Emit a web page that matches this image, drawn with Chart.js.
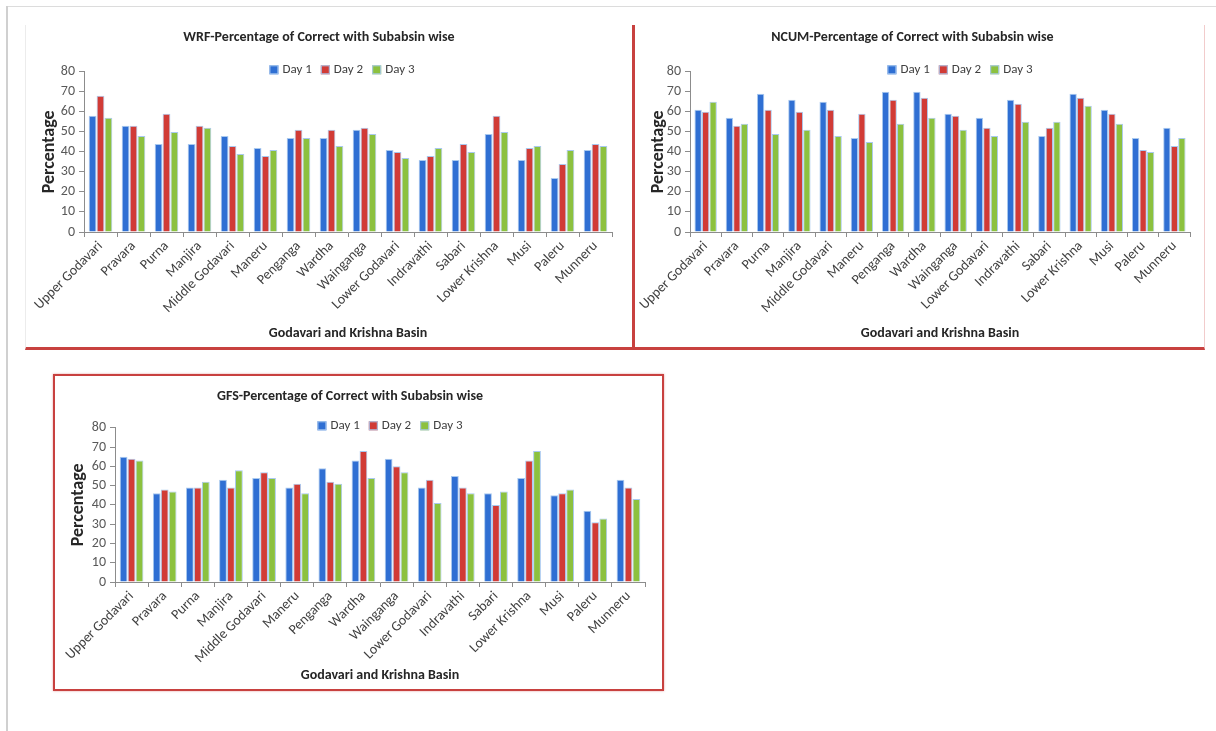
<!DOCTYPE html>
<html>
<head>
<meta charset="utf-8">
<script src="https://cdn.jsdelivr.net/npm/chart.js@4.4.1/dist/chart.umd.min.js"></script>
<style>
  body { margin:0; width:1216px; height:731px; background:#fff; position:relative; overflow:hidden; }
  .frame-top { position:absolute; left:7px; top:6px; width:1209px; border-top:1px solid #dcdcdc; }
  .frame-left { position:absolute; left:6px; top:6px; height:725px; border-left:2px solid #d0d0d0; }
  .panel { position:absolute; box-sizing:border-box; }
  #p1 { left:25px; top:25px; width:610px; height:325px; border-left:1px solid #ececec; border-right:3px solid #c8413f; border-bottom:3px solid #c8413f; }
  #p2 { left:635px; top:25px; width:570px; height:325px; border-right:1px solid #f2cccc; border-bottom:3px solid #c8413f; }
  #p3 { left:53px; top:374px; width:611px; height:317px; border:2px solid #c8413f; box-shadow:0 0 2px rgba(200,65,63,.5); }
  canvas { display:block; }
</style>
</head>
<body>
<div class="frame-top"></div>
<div class="frame-left"></div>
<div class="panel" id="p1"><canvas id="wrfChart" width="606" height="322"></canvas></div>
<div class="panel" id="p2"><canvas id="ncumChart" width="569" height="322"></canvas></div>
<div class="panel" id="p3"><canvas id="gfsChart" width="607" height="313"></canvas></div>
<script>
// Sub-basins of the Godavari and Krishna basins
const subbasins = ['Upper Godavari', 'Pravara', 'Purna', 'Manjira', 'Middle Godavari', 'Maneru',
    'Penganga', 'Wardha', 'Wainganga', 'Lower Godavari', 'Indravathi', 'Sabari',
    'Lower Krishna', 'Musi', 'Paleru', 'Munneru'];
const dayLabels = ['Day 1', 'Day 2', 'Day 3'];

// WRF
const wrfDay1 = [58, 53, 44, 44, 48, 42, 47, 47, 51, 41, 36, 36, 49, 36, 27, 41];
const wrfDay2 = [68, 53, 59, 53, 43, 38, 51, 51, 52, 40, 38, 44, 58, 42, 34, 44];
const wrfDay3 = [57, 48, 50, 52, 39, 41, 47, 43, 49, 37, 42, 40, 50, 43, 41, 43];

// NCUM
const ncumDay1 = [61, 57, 69, 66, 65, 47, 70, 70, 59, 57, 66, 48, 69, 61, 47, 52];
const ncumDay2 = [60, 53, 61, 60, 61, 59, 66, 67, 58, 52, 64, 52, 67, 59, 41, 43];
const ncumDay3 = [65, 54, 49, 51, 48, 45, 54, 57, 51, 48, 55, 55, 63, 54, 40, 47];

// GFS
const gfsDay1 = [65, 46, 49, 53, 54, 49, 59, 63, 64, 49, 55, 46, 54, 45, 37, 53];
const gfsDay2 = [64, 48, 49, 49, 57, 51, 52, 68, 60, 53, 49, 40, 63, 46, 31, 49];
const gfsDay3 = [63, 47, 52, 58, 54, 46, 51, 54, 57, 41, 46, 47, 68, 48, 33, 43];

const yMin = 0, yMax = 80, yStep = 10;

const colors = ['#2f6fd3', '#d13b36', '#8cc13f'];
const edge = '#a9c9ef';
const fontFamily = 'Carlito, Lato, sans-serif';

// legend drawn inside the plot area, like the spreadsheet original
const insideLegend = {
    id: 'insideLegend',
    afterDraw(chart, args, opts) {
        const ctx = chart.ctx;
        const area = chart.chartArea;
        ctx.save();
        ctx.font = '13px ' + fontFamily;
        const box = 9, gap = 4, spacing = 9;
        const items = chart.data.datasets;
        const widths = items.map(ds => box + gap + ctx.measureText(ds.label).width);
        const total = widths.reduce((a, b) => a + b, 0) + spacing * (items.length - 1);
        let x = (area.left + area.right) / 2 - total / 2 + (opts.shift || 0);
        const y = area.top + (opts.dy || 0);
        items.forEach((ds, i) => {
            ctx.fillStyle = ds.backgroundColor;
            ctx.fillRect(x, y - box / 2, box, box);
            ctx.strokeStyle = edge;
            ctx.lineWidth = 1;
            ctx.strokeRect(x + 0.5, y - box / 2 + 0.5, box - 1, box - 1);
            ctx.fillStyle = '#404040';
            ctx.textBaseline = 'middle';
            ctx.fillText(ds.label, x + box + gap, y);
            x += widths[i] + spacing;
        });
        ctx.restore();
    }
};

function makeChart(id, title, d1, d2, d3, lay) {
    const ctx = document.getElementById(id).getContext('2d');
    return new Chart(ctx, {
        type: 'bar',
        data: {
            labels: subbasins,
            datasets: [d1, d2, d3].map((d, i) => ({
                label: dayLabels[i],
                data: d,
                backgroundColor: colors[i],
                borderColor: edge,
                borderWidth: 1,
                categoryPercentage: 0.72,
                barPercentage: 0.98
            }))
        },
        plugins: [insideLegend],
        options: {
            responsive: false,
            animation: false,
            layout: { padding: { left: 0, right: lay.right, top: 0, bottom: 0 } },
            plugins: {
                legend: { display: false },
                tooltip: { enabled: false },
                insideLegend: { dy: -2, shift: lay.shift },
                title: {
                    display: true,
                    text: title,
                    color: '#262626',
                    font: { family: fontFamily, size: 14, weight: 'bold' },
                    padding: { top: lay.titleTop, bottom: lay.titleBottom }
                }
            },
            scales: {
                x: {
                    grid: { drawOnChartArea: false, drawTicks: true, tickLength: 5, color: '#8c8c8c', offset: true },
                    border: { display: true, color: '#8c8c8c' },
                    ticks: {
                        minRotation: 45, maxRotation: 45, autoSkip: false,
                        color: '#404040', padding: 1,
                        font: { family: fontFamily, size: 14 }
                    },
                    title: {
                        display: true,
                        text: 'Godavari and Krishna Basin',
                        color: '#262626',
                        font: { family: fontFamily, size: 14, weight: 'bold' },
                        padding: { top: 0, bottom: 5 }
                    },
                    afterFit(scale) { scale.height = lay.xHeight; }
                },
                y: {
                    min: yMin, max: yMax,
                    grid: { drawOnChartArea: false, drawTicks: true, tickLength: 5, color: '#8c8c8c' },
                    border: { display: true, color: '#8c8c8c' },
                    ticks: {
                        stepSize: yStep, autoSkip: false, color: '#595959', padding: 4,
                        font: { family: fontFamily, size: 14 }
                    },
                    title: {
                        display: true,
                        text: 'Percentage',
                        color: '#262626',
                        font: { family: fontFamily, size: 18, weight: 'bold' },
                        padding: { top: 13, bottom: 0 }
                    },
                    afterFit(scale) { scale.width = lay.yWidth; }
                }
            }
        }
    });
}

makeChart('wrfChart', 'WRF-Percentage of Correct with Subabsin wise', wrfDay1, wrfDay2, wrfDay3,
    { right: 20, titleTop: 4, titleBottom: 26, xHeight: 115, yWidth: 58, shift: -6 });
makeChart('ncumChart', 'NCUM-Percentage of Correct with Subabsin wise', ncumDay1, ncumDay2, ncumDay3,
    { right: 14, titleTop: 4, titleBottom: 26, xHeight: 115, yWidth: 55, shift: 20 });
makeChart('gfsChart', 'GFS-Percentage of Correct with Subabsin wise', gfsDay1, gfsDay2, gfsDay3,
    { right: 17, titleTop: 12, titleBottom: 23, xHeight: 107, yWidth: 60, shift: 10 });
</script>
</body>
</html>
